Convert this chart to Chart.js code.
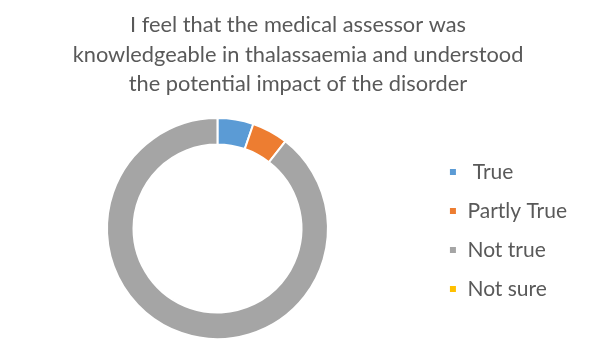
<!DOCTYPE html>
<html>
<head>
<meta charset="utf-8">
<script src="https://cdn.jsdelivr.net/npm/chart.js@4/dist/chart.umd.min.js"></script>
<style>
html,body{margin:0;padding:0;background:#fff;}
#wrap{width:595px;height:356px;position:relative;}
</style>
</head>
<body>
<div id="wrap"><canvas id="c" width="595" height="356"></canvas></div>
<script>
const categories = [" True", "Partly True", "Not true", "Not sure"];
const responses = [1, 1, 17, 0];
const sliceColors = ["#5B9BD5", "#ED7D31", "#A5A5A5", "#FFC000"];
const titleLines = [
  "I feel that the medical assessor was",
  "knowledgeable in thalassaemia and understood",
  "the potential impact of the disorder"
];

// keep the title centred on the full page width (legend lives at the right)
const centerTitle = {
  id: 'centerTitle',
  afterLayout(chart) {
    if (chart.titleBlock) {
      chart.titleBlock.left = 1;
      chart.titleBlock.right = 595;
    }
  }
};

new Chart(document.getElementById('c'), {
  type: 'doughnut',
  data: {
    labels: categories,
    datasets: [{
      data: responses,
      backgroundColor: sliceColors,
      borderColor: '#ffffff',
      borderWidth: 2
    }]
  },
  options: {
    responsive: false,
    animation: false,
    cutout: '76%',
    layout: { padding: { top: 0, bottom: 16, left: 4, right: 18 } },
    plugins: {
      tooltip: { enabled: false },
      title: {
        display: true,
        text: titleLines,
        color: '#595959',
        font: { family: 'Lato', size: 21.8, weight: 'normal', lineHeight: 29.5 / 21.8 },
        padding: { top: 10.5, bottom: 18 }
      },
      legend: {
        position: 'right',
        title: {
          display: true,
          text: '',
          font: { size: 10, lineHeight: 1 },
          padding: { top: 111, bottom: 0 }
        },
        labels: {
          color: '#595959',
          font: { family: 'Lato', size: 21 },
          boxWidth: 8,
          boxHeight: 8,
          padding: 18
        }
      }
    }
  },
  plugins: [centerTitle]
});
</script>
</body>
</html>
